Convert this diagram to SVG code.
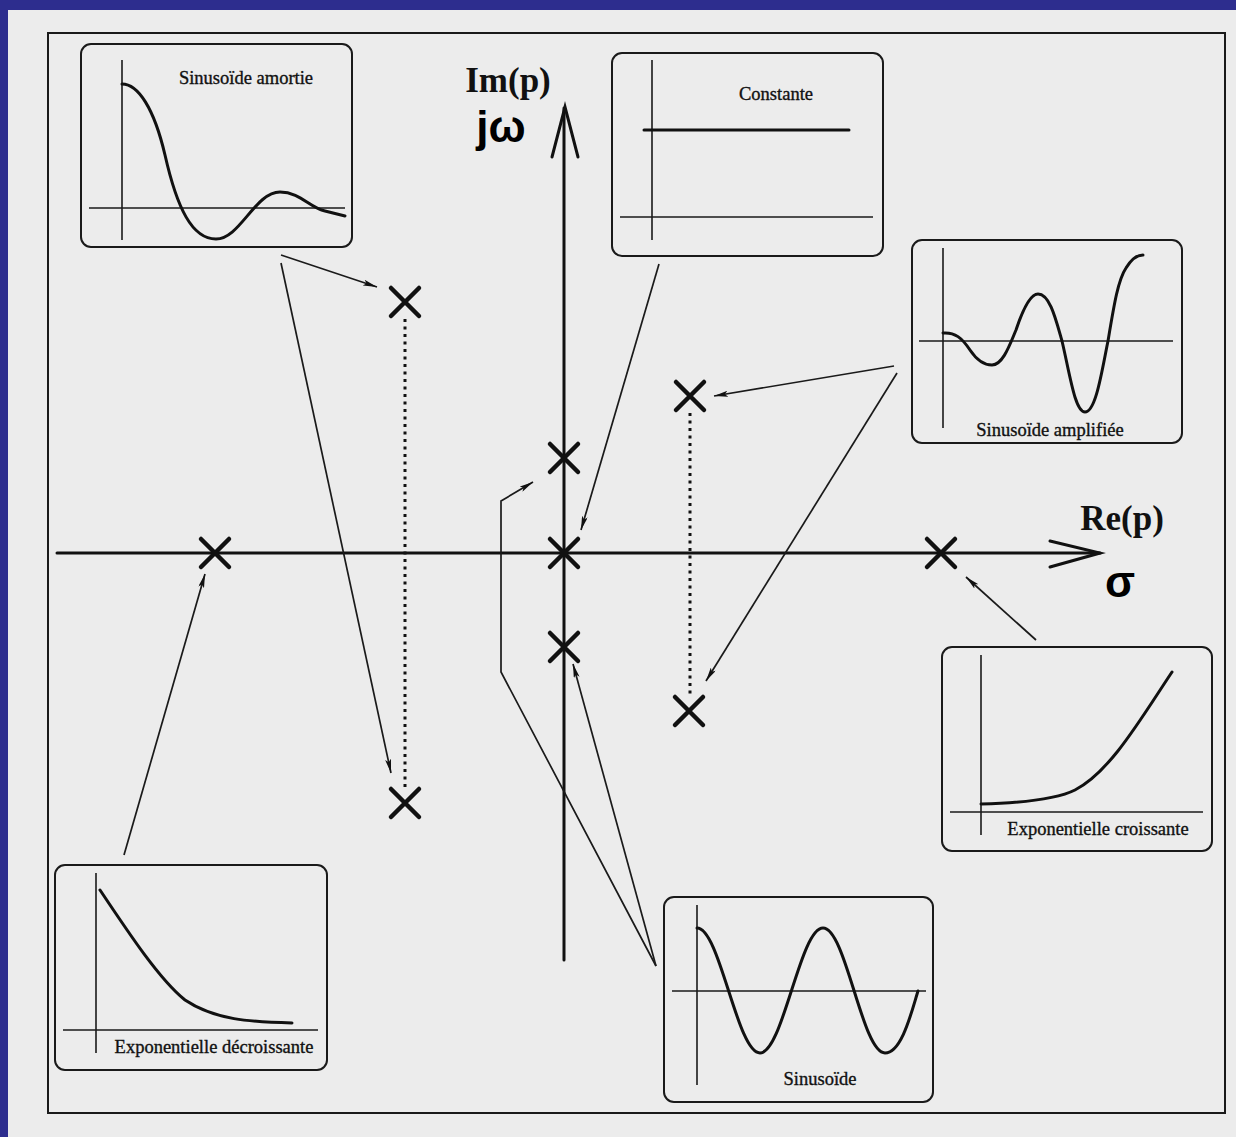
<svg xmlns="http://www.w3.org/2000/svg" width="1236" height="1137" viewBox="0 0 1236 1137">
<style>
.box{fill:none;stroke:#1a1a1a;stroke-width:2}
.ax{fill:none;stroke:#1a1a1a;stroke-width:1.6}
.crv{fill:none;stroke:#111;stroke-width:3;stroke-linecap:round;stroke-linejoin:round}
.lbl{font-family:"Liberation Serif","Times New Roman",serif;font-size:18.5px;fill:#111;stroke:#111;stroke-width:0.35;text-anchor:middle}
.big{font-family:"Liberation Serif","Times New Roman",serif;font-size:35px;font-weight:bold;fill:#111;text-anchor:middle}
.greek{font-family:"Liberation Sans",Arial,sans-serif;font-size:44px;font-weight:bold;fill:#000;text-anchor:middle}
.axis{fill:none;stroke:#111;stroke-width:3;stroke-linecap:round}
.cross{fill:none;stroke:#111;stroke-width:4.5;stroke-linecap:round}
.dot{fill:none;stroke:#111;stroke-width:3;stroke-dasharray:3 4.5}
.con{fill:none;stroke:#1a1a1a;stroke-width:1.7;marker-end:url(#ah)}
</style>
<defs>
<marker id="ah" viewBox="0 0 14 6" refX="14" refY="3" markerWidth="14" markerHeight="6" markerUnits="userSpaceOnUse" orient="auto">
<path d="M0,0 L14,3 L0,6 L3,3 z" fill="#111"/>
</marker>
</defs>
<rect x="0" y="0" width="1236" height="1137" fill="#2d2d8e"/>
<rect x="8" y="10" width="1228" height="1127" fill="#ececec"/>
<rect x="48" y="33" width="1177" height="1080" fill="none" stroke="#1a1a1a" stroke-width="2"/>

<g id="axes">
<line class="axis" x1="57" y1="553" x2="1100" y2="553"/>
<polyline class="axis" points="1050,541 1100,553 1050,567"/>
<line class="axis" x1="564" y1="108" x2="564" y2="960"/>
<polyline class="axis" points="552,157 565,107 578,157"/>
<text class="big" x="508" y="92">Im(p)</text>
<text class="greek" x="501" y="142">jω</text>
<text class="big" x="1122" y="530">Re(p)</text>
<text class="greek" x="1120" y="597">σ</text>
</g>

<g id="dotted">
<line class="dot" x1="405" y1="319" x2="405" y2="790"/>
<line class="dot" x1="690" y1="413" x2="690" y2="696"/>
</g>

<g id="poles">
<g id="p1"><path class="cross" d="M391,288 L419,316 M419,288 L391,316"/></g>
<g id="p2"><path class="cross" d="M391,789 L419,817 M419,789 L391,817"/></g>
<g id="p3"><path class="cross" d="M201,539 L229,567 M229,539 L201,567"/></g>
<g id="p4"><path class="cross" d="M550,444 L578,472 M578,444 L550,472"/></g>
<g id="p5"><path class="cross" d="M550,539 L578,567 M578,539 L550,567"/></g>
<g id="p6"><path class="cross" d="M550,633 L578,661 M578,633 L550,661"/></g>
<g id="p7"><path class="cross" d="M676,382 L704,410 M704,382 L676,410"/></g>
<g id="p8"><path class="cross" d="M675,697 L703,725 M703,697 L675,725"/></g>
<g id="p9"><path class="cross" d="M927,539 L955,567 M955,539 L927,567"/></g>
</g>

<g id="box-amortie">
<rect class="box" x="81" y="44" width="271" height="203" rx="10"/>
<line class="ax" x1="122" y1="60" x2="122" y2="240"/>
<line class="ax" x1="89" y1="208" x2="345" y2="208"/>
<path class="crv" d="M122,84 C138,84 154,108 165,155 C177,208 192,239 216,239 C240,239 255,192 280,192 C300,192 310,208 325,211 L345,216"/>
<text class="lbl" x="246" y="84">Sinusoïde amortie</text>
</g>

<g id="box-constante">
<rect class="box" x="612" y="53" width="271" height="203" rx="10"/>
<line class="ax" x1="652" y1="60" x2="652" y2="240"/>
<line class="ax" x1="620" y1="217" x2="873" y2="217"/>
<line class="crv" x1="644" y1="130" x2="849" y2="130" stroke-width="2.5"/>
<text class="lbl" x="776" y="100">Constante</text>
</g>

<g id="box-amplifiee">
<rect class="box" x="912" y="240" width="270" height="203" rx="10"/>
<line class="ax" x1="943" y1="248" x2="943" y2="428"/>
<line class="ax" x1="919" y1="341" x2="1173" y2="341"/>
<path class="crv" d="M943,333 C955,332 962,338 970,350 C978,362 985,365 992,365 C1003,365 1010,344 1016,330 C1022,312 1030,294 1038,294 C1050,294 1056,320 1062,341 C1070,375 1075,412 1085,412 C1096,412 1102,370 1108,341 C1114,305 1118,280 1126,268 C1132,258 1137,255 1143,255"/>
<text class="lbl" x="1050" y="436">Sinusoïde amplifiée</text>
</g>

<g id="box-croissante">
<rect class="box" x="942" y="647" width="270" height="204" rx="10"/>
<line class="ax" x1="981" y1="655" x2="981" y2="835"/>
<line class="ax" x1="950" y1="812" x2="1203" y2="812"/>
<path class="crv" d="M981,804 C1020,803 1055,800 1075,790 C1110,772 1140,720 1172,672"/>
<text class="lbl" x="1098" y="835">Exponentielle croissante</text>
</g>

<g id="box-decroissante">
<rect class="box" x="55" y="865" width="272" height="205" rx="10"/>
<line class="ax" x1="96" y1="873" x2="96" y2="1053"/>
<line class="ax" x1="63" y1="1030" x2="318" y2="1030"/>
<path class="crv" d="M100,890 C130,935 160,980 185,1000 C215,1020 250,1022 292,1023"/>
<text class="lbl" x="214" y="1053">Exponentielle décroissante</text>
</g>

<g id="box-sinusoide">
<rect class="box" x="664" y="897" width="269" height="205" rx="10"/>
<line class="ax" x1="697" y1="905" x2="697" y2="1085"/>
<line class="ax" x1="672" y1="991" x2="926" y2="991"/>
<path class="crv" d="M697,928 C720,928 737,1053 760,1053 C783,1053 800,928 823,928 C846,928 862,1053 885,1053 C902,1053 912,1010 918,991"/>
<text class="lbl" x="820" y="1085">Sinusoïde</text>
</g>

<g id="connectors">
<line class="con" x1="281" y1="255" x2="377" y2="287"/>
<line class="con" x1="281" y1="263" x2="391" y2="773"/>
<line class="con" x1="124" y1="855" x2="205" y2="574"/>
<line class="con" x1="659" y1="264" x2="581" y2="530"/>
<line class="con" x1="894" y1="366" x2="714" y2="396"/>
<line class="con" x1="897" y1="373" x2="706" y2="681"/>
<line class="con" x1="1036" y1="640" x2="966" y2="577"/>
<polyline class="con" points="656,966 501,672 501,501 533,482"/>
<line class="con" x1="656" y1="966" x2="573" y2="664"/>
</g>
</svg>
